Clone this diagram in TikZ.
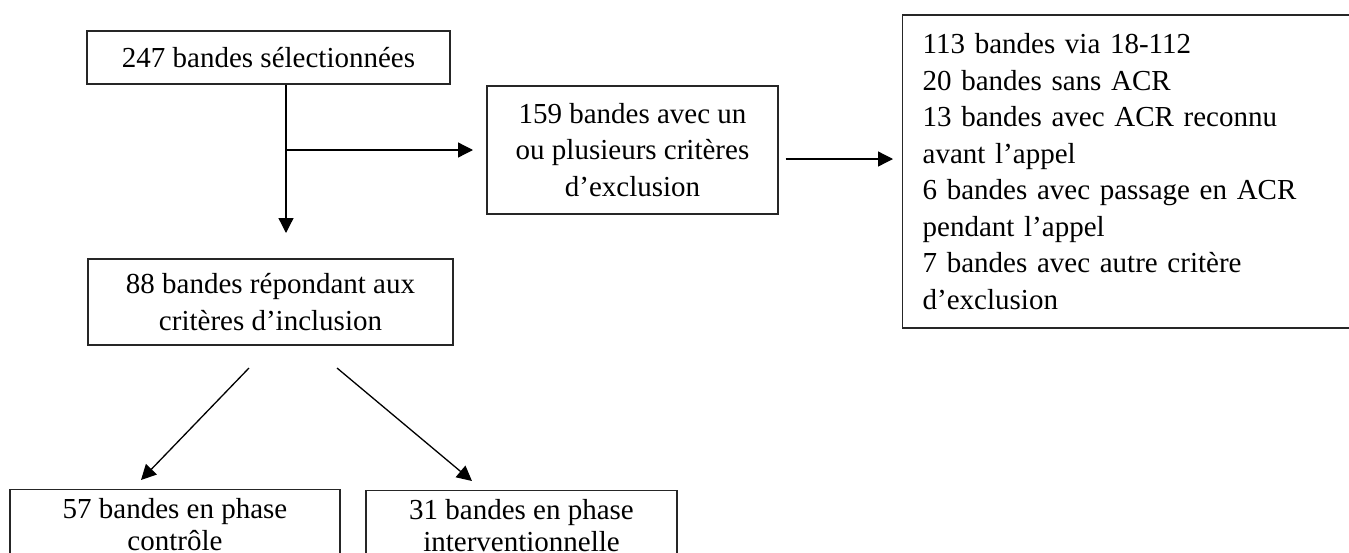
\documentclass[tikz,border=0pt]{standalone}
\usepackage{fontspec}
\setmainfont{Liberation Serif}
\usetikzlibrary{arrows.meta}
\begin{document}
\begin{tikzpicture}[x=0.5pt,y=-0.5pt,
  txt/.style={font=\fontsize{14.5}{18.25}\selectfont},
  box/.style={draw=black!85, line width=0.7pt, txt, align=center, inner sep=0pt},
  cutbox/.style={box, anchor=north, inner ysep=4.5pt},
  arr/.style={line width=0.65pt, -{Triangle[length=7.5pt,width=7.5pt]}}]
\useasboundingbox (0,0) rectangle (1349,552);
\clip (0,0) rectangle (1349,552);
\fill[white] (0,0) rectangle (1349,552);
% boxes
\node[box, minimum width=181.5pt, minimum height=26.5pt] (A) at (268.5,57.5) {247 bandes sélectionnées};
\node[box, minimum width=145.5pt, minimum height=64pt] (B) at (632.5,150) {159 bandes avec un\\ou plusieurs critères\\d’exclusion};
\node[box, anchor=west, align=left, text width=240pt, inner xsep=10pt, minimum height=156.5pt] (C) at (902,171.5) {113 bandes via 18-112\\20 bandes sans ACR\\13 bandes avec ACR reconnu\\avant l’appel\\6 bandes avec passage en ACR\\pendant l’appel\\7 bandes avec autre critère\\d’exclusion};
\node[box, minimum width=182.5pt, minimum height=43pt] (D) at (270.5,302) {88 bandes répondant aux\\critères d’inclusion};
\node[cutbox, minimum width=165pt] (E) at (175,489) {57 bandes en phase\\[-2.5pt]contrôle};
\node[cutbox, minimum width=155.5pt] (F) at (521.5,490) {31 bandes en phase\\[-2.5pt]interventionnelle};
% connectors
\coordinate (t1) at (286,233);
\coordinate (j) at (286,150);
\coordinate (t2) at (473,150);
\draw[line width=0.65pt] (A.south -| t1) -- (j);
\draw[arr] (j) -- (t1);
\draw[arr] (j) -- (t2);
\draw[arr] ([xshift=3.5pt,yshift=-4.5pt]B.east) -- ([xshift=-4.5pt,yshift=-4.5pt]B.east -| C.west);
\coordinate (d1) at (249,368);
\coordinate (e1) at (141,480);
\coordinate (d2) at (337,368);
\coordinate (f1) at (472,481);
\draw[arr] (d1) -- (e1);
\draw[arr] (d2) -- (f1);
\end{tikzpicture}
\end{document}
